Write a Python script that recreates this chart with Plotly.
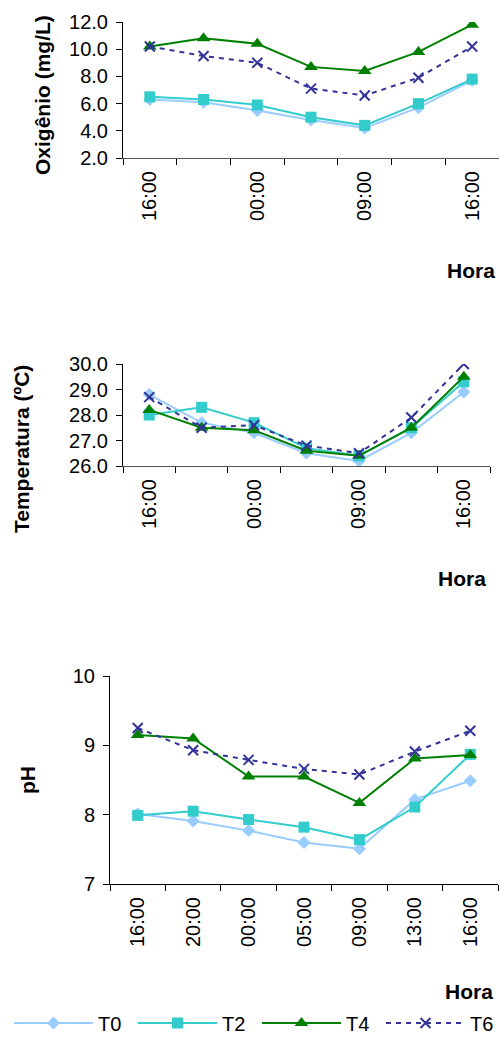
import plotly.graph_objects as go

# ---------------- data ----------------
hours = ["16:00", "20:00", "00:00", "05:00", "09:00", "13:00", "16:00"]
series_names = ["T0", "T2", "T4", "T6"]

oxigenio_T0 = [6.3, 6.1, 5.5, 4.8, 4.2, 5.7, 7.7]
oxigenio_T2 = [6.5, 6.3, 5.9, 5.0, 4.4, 6.0, 7.8]
oxigenio_T4 = [10.2, 10.8, 10.4, 8.7, 8.4, 9.8, 11.8]
oxigenio_T6 = [10.2, 9.5, 9.0, 7.1, 6.6, 7.9, 10.2]

temperatura_T0 = [28.8, 27.7, 27.3, 26.5, 26.2, 27.3, 28.9]
temperatura_T2 = [28.0, 28.3, 27.7, 26.7, 26.4, 27.5, 29.3]
temperatura_T4 = [28.2, 27.5, 27.4, 26.6, 26.4, 27.5, 29.5]
temperatura_T6 = [28.7, 27.5, 27.6, 26.8, 26.5, 27.9, 30.0]

ph_T0 = [8.01, 7.91, 7.77, 7.60, 7.51, 8.22, 8.49]
ph_T2 = [7.99, 8.05, 7.93, 7.82, 7.64, 8.11, 8.87]
ph_T4 = [9.15, 9.10, 8.55, 8.55, 8.17, 8.81, 8.86]
ph_T6 = [9.25, 8.93, 8.79, 8.66, 8.58, 8.91, 9.21]

oxi_ticks = [2.0, 4.0, 6.0, 8.0, 10.0, 12.0]
temp_ticks = [26.0, 27.0, 28.0, 29.0, 30.0]
ph_ticks = [7, 8, 9, 10]

# ---------------- styles ----------------
W, H = 499, 1037
FONT = "Liberation Sans, Arial, sans-serif"
styles = {
    "T0": dict(color="#99CCFF", symbol="diamond", size=10, dash="solid"),
    "T2": dict(color="#33CCCC", symbol="square", size=11, dash="solid"),
    "T4": dict(color="#008000", symbol="triangle-up", size=12, dash="solid"),
    "T6": dict(color="#333399", symbol="x-thin", size=10, dash="5px,5px"),
}

x_idx = list(range(len(hours)))

def px(x):
    return x / W

def py(y):
    return 1 - y / H

fig = go.Figure()

panels = [
    ("x", "y", [oxigenio_T0, oxigenio_T2, oxigenio_T4, oxigenio_T6], False),
    ("x2", "y2", [temperatura_T0, temperatura_T2, temperatura_T4, temperatura_T6], False),
    ("x3", "y3", [ph_T0, ph_T2, ph_T4, ph_T6], True),
]

for xa, ya, data, show in panels:
    for name, vals in zip(series_names, data):
        s = styles[name]
        if s["symbol"] == "x-thin":
            marker = dict(symbol="x-thin", size=s["size"],
                          line=dict(color=s["color"], width=2), color=s["color"])
        else:
            marker = dict(symbol=s["symbol"], size=s["size"], color=s["color"],
                          line=dict(width=0))
        fig.add_trace(go.Scatter(
            x=x_idx, y=vals, mode="lines+markers", name=name,
            xaxis=xa, yaxis=ya, showlegend=show,
            line=dict(color=s["color"], width=2, dash=s["dash"]),
            marker=marker,
        ))

def xaxis_cfg(domain, anchor, tickvals, ticktext, linecolor):
    return dict(
        domain=domain, anchor=anchor, range=[-0.5, len(hours) - 0.5],
        tickmode="array", tickvals=tickvals, ticktext=ticktext,
        ticks="", tickangle=-90, ticklabelstandoff=4, automargin=False,
        showgrid=False, zeroline=False,
        showline=True, linecolor=linecolor, linewidth=1,
        tickfont=dict(family=FONT, size=20, color="black"),
        minor=dict(tickmode="linear", tick0=-0.5, dtick=1, ticks="outside",
                   ticklen=6, tickcolor="black", tickwidth=1, showgrid=False),
        fixedrange=True,
    )

def yaxis_cfg(domain, anchor, rng, tickvals, fmt):
    return dict(
        domain=domain, anchor=anchor, range=rng, tickmode="array", tickvals=tickvals,
        ticktext=[fmt.format(v) for v in tickvals],
        ticks="outside", ticklen=6, tickcolor="black", tickwidth=1,
        showgrid=False, zeroline=False, automargin=False,
        showline=True, linecolor="black", linewidth=1,
        tickfont=dict(family=FONT, size=20, color="black"),
        ticklabelstandoff=4, fixedrange=True,
    )

top_vals = [0, 2, 4, 6]
top_text = [hours[i] for i in top_vals]

fig.update_layout(
    width=W, height=H,
    margin=dict(l=0, r=0, t=0, b=0, autoexpand=False),
    paper_bgcolor="white", plot_bgcolor="white",
    font=dict(family=FONT, size=20, color="black"),
    xaxis=xaxis_cfg([px(123), 1.0], "y", top_vals, top_text, "#555555"),
    yaxis=yaxis_cfg([py(158), py(22)], "x", [2, 12], oxi_ticks, "{:.1f}"),
    xaxis2=xaxis_cfg([px(123), px(490)], "y2", top_vals, top_text, "#555555"),
    yaxis2=yaxis_cfg([py(466), py(364)], "x2", [26, 30], temp_ticks, "{:.1f}"),
    xaxis3=xaxis_cfg([px(110), px(498)], "y3", x_idx, hours, "black"),
    yaxis3=yaxis_cfg([py(884), py(676)], "x3", [7, 10], ph_ticks, "{:d}"),
    legend=dict(orientation="h", x=px(9), xanchor="left", y=py(1023), yanchor="middle",
                font=dict(family=FONT, size=20, color="black"),
                entrywidth=30, entrywidthmode="pixels", itemwidth=79,
                bgcolor="rgba(0,0,0,0)", tracegroupgap=0),
    showlegend=True,
)

ann = [
    ("Oxigênio (mg/L)", 42, 95, -90),
    ("Temperatura (ºC)", 21, 449, -90),
    ("pH", 27, 780, -90),
    ("Hora", 471, 270, 0),
    ("Hora", 462, 578, 0),
    ("Hora", 469, 991, 0),
]
for text, x, y, ang in ann:
    fig.add_annotation(
        text="<b>" + text + "</b>", x=px(x), y=py(y), xref="paper", yref="paper",
        xanchor="center", yanchor="middle", showarrow=False, textangle=ang,
        font=dict(family=FONT, size=21, color="black"),
    )

fig.write_html("out.html")
